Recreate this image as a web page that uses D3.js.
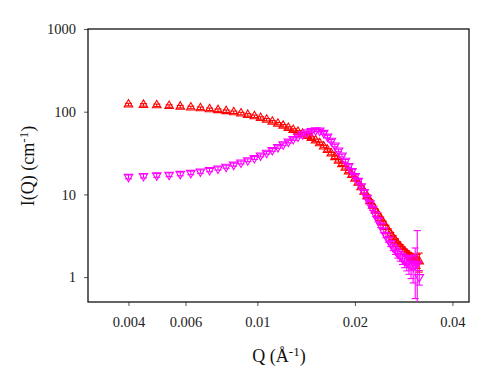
<!DOCTYPE html>
<html>
<head>
<meta charset="utf-8">
<script src="https://cdn.jsdelivr.net/npm/d3@7"></script>
<style>
body{margin:0;background:#fff}
text{font-family:"Liberation Serif","Times New Roman",serif}
</style>
</head>
<body>
<svg id="chart" width="500" height="389"></svg>
<script>
// Q grid (1/A)
const qValues=[0.00400,0.00445,0.00489,0.00534,0.00578,0.00623,0.00667,0.00712,0.00756,0.00801,
0.00845,0.00890,0.00934,0.00979,0.01023,0.01068,0.01112,0.01157,0.01201,0.01246,
0.01290,0.01335,0.01379,0.01424,0.01468,0.01513,0.01557,0.01602,0.01646,0.01691,
0.01735,0.01780,0.01824,0.01869,0.01913,0.01958,0.02002,0.02047,0.02091,0.02136,
0.02180,0.02225,0.02269,0.02314,0.02358,0.02403,0.02447,0.02492,0.02536,0.02581,
0.02625,0.02670,0.02714,0.02759,0.02803,0.02848,0.02892,0.02937,0.02981,0.03026,
0.03070,0.03115,0.03159]
// red, up triangles
const redI=[122,121,119.5,117,115,112.5,110,107,104.5,101.5,
98.5,95,91.5,88,84,80,75.5,71.5,67.5,63.5,
60,57,54,51,48,45,41.5,38,34.5,31.2,
28.2,25.5,23.2,21,19,17.2,15.5,13.8,12.2,10.8,
9.5,8.3,7.3,6.4,5.7,5.1,4.55,4.05,3.65,3.3,
3.0,2.75,2.52,2.33,2.17,2.03,1.92,1.82,1.74,1.67,
1.62,1.58,1.55]
const redErr=[4.3,4.2,4.2,4.1,4.0,3.9,3.8,3.7,3.6,3.5,
3.4,3.3,3.2,3.1,2.9,2.8,2.6,2.5,2.4,2.2,
2.1,2.0,1.9,1.8,1.7,1.6,1.5,1.3,1.2,1.1,
1.0,0.9,0.8,0.75,0.68,0.62,0.56,0.5,0.45,0.4,
0.36,0.32,0.29,0.26,0.24,0.22,0.2,0.19,0.18,0.17,
0.16,0.15,0.15,0.14,0.14,0.14,0.15,0.16,0.17,0.2,
0.25,0.3,0.4]
// magenta, down triangles
const magI=[16.3,16.7,17.0,17.3,17.7,18.2,18.9,19.7,20.6,21.6,
22.9,24.3,25.9,27.6,29.6,31.9,34.5,37.3,40.3,43.5,
46.8,50.2,53.5,56.4,58.5,59.5,59,55.5,50,44.5,
39,34,29.5,25.5,22,19.2,16.7,14.6,12.5,10.7,
9.1,7.8,6.7,5.7,4.9,4.2,3.65,3.2,2.85,2.55,
2.3,2.1,1.93,1.8,1.68,1.58,1.5,1.43,1.38,1.35,
1.4,1.45,1.0]
const magErr=[0.9,0.9,0.9,0.9,0.9,0.9,0.9,0.9,0.9,0.9,
0.95,1.0,1.0,1.1,1.2,1.2,1.3,1.4,1.5,1.6,
1.7,1.8,1.9,2.0,2.1,2.1,2.1,2.0,1.8,1.6,
1.4,1.2,1.1,0.95,0.85,0.75,0.66,0.6,0.52,0.46,
0.4,0.35,0.31,0.28,0.25,0.23,0.22,0.21,0.21,0.21,
0.21,0.22,0.23,0.24,0.26,0.28,0.31,0.35,0.42,0.5,
0.85,2.2,0.2]

const xTicks=[0.004,0.006,0.01,0.02,0.04]
const xTickLabels=["0.004","0.006","0.01","0.02","0.04"]
const yTicks=[1,10,100,1000]
const yTickLabels=["1","10","100","1000"]

const L=88,R=469,T=29,B=302
const x=d3.scaleLog().domain([0.003,0.045]).range([L,R])
const y=d3.scaleLog().domain([0.5,1000]).range([B,T])
const svg=d3.select("#chart")

svg.append("defs").append("clipPath").attr("id","plot")
.append("rect").attr("x",L).attr("y",T).attr("width",R-L).attr("height",B-T)

// axes
const gx=svg.append("g").attr("transform",`translate(0,${B})`)
.call(d3.axisBottom(x).tickValues(xTicks).tickFormat((d,i)=>xTickLabels[i]).tickSizeInner(4).tickSizeOuter(0).tickPadding(11))
const gy=svg.append("g").attr("transform",`translate(${L},0)`)
.call(d3.axisLeft(y).tickValues(yTicks).tickFormat((d,i)=>yTickLabels[i]).tickSizeInner(4).tickSizeOuter(0).tickPadding(8))
for(const g of [gx,gy]){
g.select(".domain").remove()
g.selectAll("text").attr("font-size","14.5px").attr("fill","#222").attr("font-family","Liberation Serif, serif")
g.selectAll("line").attr("stroke","#555")
}
gy.selectAll("text").attr("dy","0.33em")

svg.append("rect").attr("x",L).attr("y",T).attr("width",R-L).attr("height",B-T)
.attr("fill","none").attr("stroke","#111").attr("stroke-width",1.3)

function series(vals,errs,color,rot){
const pts=qValues.map((q,i)=>({q,v:vals[i],e:errs[i]}))
const g=svg.append("g").attr("clip-path","url(#plot)").attr("stroke",color).attr("fill","none").attr("stroke-width",1.1)
const eb=g.selectAll("g.eb").data(pts).join("g")
eb.append("line").attr("x1",d=>x(d.q)).attr("x2",d=>x(d.q))
.attr("y1",d=>y(Math.max(d.v+d.e,0.01))).attr("y2",d=>y(Math.max(d.v-d.e,0.01)))
eb.append("line").attr("x1",d=>x(d.q)-3.5).attr("x2",d=>x(d.q)+3.5)
.attr("y1",d=>y(d.v+d.e)).attr("y2",d=>y(d.v+d.e))
eb.filter(d=>d.v-d.e>0).append("line").attr("x1",d=>x(d.q)-3.5).attr("x2",d=>x(d.q)+3.5)
.attr("y1",d=>y(d.v-d.e)).attr("y2",d=>y(d.v-d.e))
g.selectAll("path").data(pts).join("path")
.attr("d",d3.symbol(d3.symbolTriangle,32))
.attr("transform",d=>`translate(${x(d.q)},${y(d.v)}) rotate(${rot})`)
}
series(redI,redErr,"#ff0000",0)
series(magI,magErr,"#ff00ff",180)

// titles
const xt=svg.append("text").attr("x",279).attr("y",362).attr("text-anchor","middle").attr("font-size","18px").attr("fill","#111")
xt.append("tspan").text("Q (Å")
xt.append("tspan").attr("dy","-0.45em").attr("font-size","13px").text("-1")
xt.append("tspan").attr("dy","0.32em").text(")")

const yt=svg.append("text").attr("transform","translate(34,166) rotate(-90)").attr("text-anchor","middle").attr("font-size","18px").attr("fill","#111")
yt.append("tspan").text("I(Q) (cm")
yt.append("tspan").attr("dy","-0.45em").attr("font-size","13px").text("-1")
yt.append("tspan").attr("dy","0.32em").text(")")
</script>
</body>
</html>
